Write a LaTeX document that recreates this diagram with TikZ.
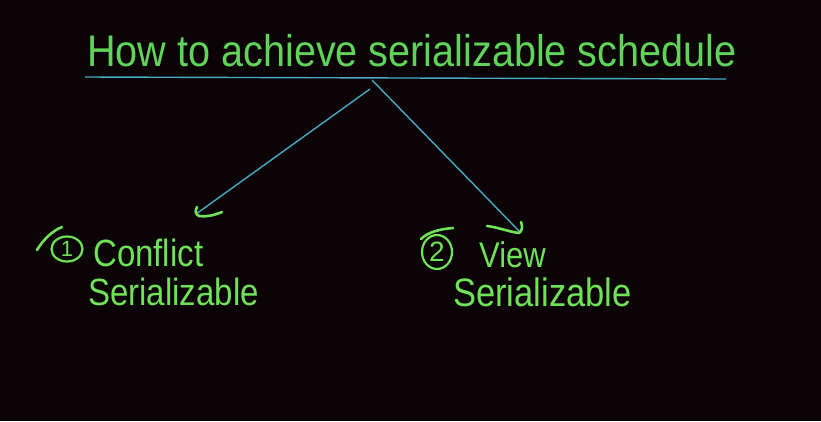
\documentclass[tikz,border=0pt]{standalone}
\usepackage{fontspec}
\usetikzlibrary{shapes.geometric}
\setmainfont{Liberation Sans}
\newcommand{\tallhand}[1]{\scalebox{1}[1.15]{#1}}
\begin{document}
\begin{tikzpicture}[x=1pt,y=-1pt,
  title/.style={text=titlegreen,inner sep=0pt,anchor=base west,font=\fontsize{39.6}{44}\selectfont},
  hand/.style={text=inkgreen,inner sep=0pt,anchor=base west,font=\fontsize{33}{38}\selectfont},
  numcirc/.style={ellipse,draw=inkgreen,line width=2.2pt,text=inkgreen,inner sep=0pt},
  link/.style={draw=linkblue,line width=1.4pt},
  pen/.style={draw=inkgreen,line width=2.6pt,line cap=round,line join=round}]
\definecolor{bgdark}{RGB}{12,3,7}
\definecolor{titlegreen}{RGB}{96,212,88}
\definecolor{inkgreen}{RGB}{112,226,88}
\definecolor{linkblue}{RGB}{70,170,196}
\fill[bgdark] (0,0) rectangle (821,421);
\useasboundingbox (0,0) rectangle (821,421);

% heading and its rule
\node[title] (head) at (87,66) {\scalebox{1}[1.12]{How to achieve serializable schedule}};
\coordinate (ruleL) at (85,77);
\coordinate (ruleR) at (726,79);
\draw[link] (ruleL) -- (ruleR);

% branch lines
\coordinate (forkL) at (370,89);
\coordinate (forkR) at (372,80);
\coordinate (tipL) at (196,214);
\coordinate (tipR) at (520,232);
\draw[link] (forkL) -- (tipL);
\draw[link] (forkR) -- (tipR);

% hand-drawn arrow heads
\draw[pen] (197,207) .. controls (195,211) and (195,214) .. (199,216) .. controls (207,217) and (215,215) .. (222,212);
\draw[pen] (487,226) .. controls (497,227) and (510,232) .. (519,233) .. controls (522,231) and (523,227) .. (521,222);

% option 1
\draw[pen] (37,250) .. controls (43,240) and (52,231) .. (62,227);
\node[numcirc,minimum width=31pt,minimum height=25pt,font=\fontsize{22}{24}\selectfont] (n1) at (67,249) {1};
\node[hand] (c1) at (93,266) {\tallhand{Conflict}};
\node[hand] (s1) at (88,305) {\tallhand{Serializable}};

% option 2
\draw[pen] (421,239) .. controls (428,232) and (440,229) .. (453,228);
\node[numcirc,minimum width=30pt,minimum height=34pt,font=\fontsize{28}{30}\selectfont] (n2) at (437,252) {2};
\node[hand,font=\fontsize{31}{36}\selectfont] (v2) at (479,267) {\tallhand{View}};
\node[hand,font=\fontsize{34.5}{38}\selectfont] (s2) at (453,306) {\tallhand{Serializable}};
\end{tikzpicture}
\end{document}
